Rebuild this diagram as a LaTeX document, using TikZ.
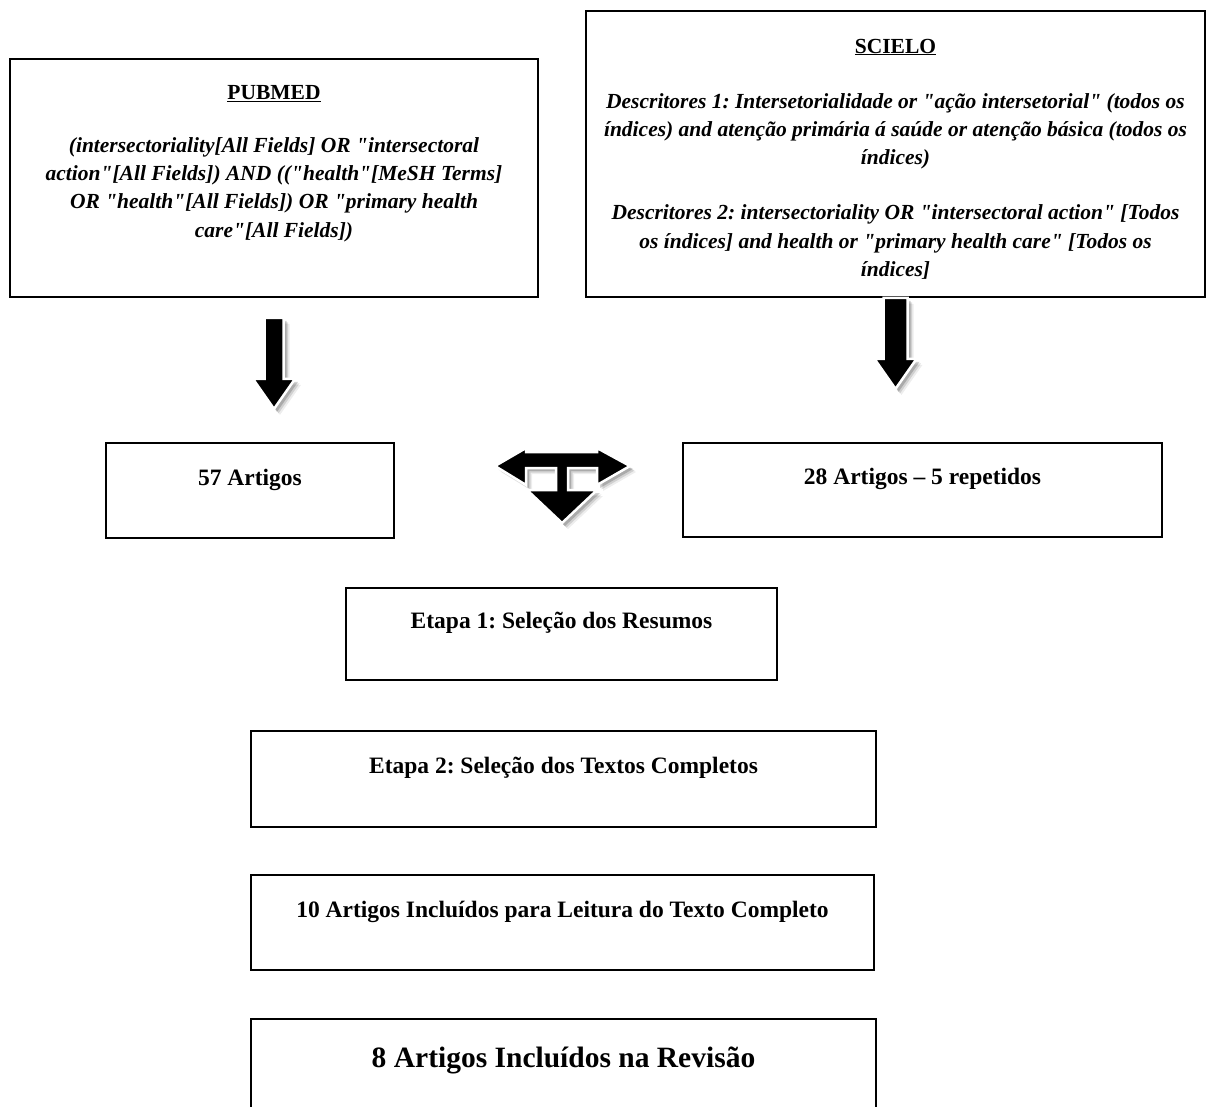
\documentclass[tikz,border=0pt]{standalone}
\usepackage{fontspec}
\setmainfont{Liberation Serif}
\usetikzlibrary{positioning,shadows}
\newcommand{\dq}{\textquotedbl}
\frenchspacing

\begin{document}
\begin{tikzpicture}[x=1pt, y=-1pt,
		box/.style={draw, line width=1.8pt, inner sep=0pt},
		stepbox/.style={box, font=\bfseries\fontsize{23.5}{28}\selectfont, text height=17pt, text depth=27.4pt},
		query/.style={align=center, inner sep=0pt, font=\bfseries\itshape\fontsize{21.5}{28.2}\selectfont},
		blockarrow/.style={fill=black, draw=white, line width=2.5pt,
			drop shadow={shadow xshift=6pt, shadow yshift=-6pt, opacity=.07, fill=black},
			drop shadow={shadow xshift=4.5pt, shadow yshift=-4.5pt, opacity=.12, fill=black},
			drop shadow={shadow xshift=3pt, shadow yshift=-3pt, opacity=.18, fill=black}}]
		\useasboundingbox (0,0) rectangle (1209,1106);
		\fill[white] (0,0) rectangle (1209,1106);
		\clip (0,0) rectangle (1209,1106);
		% bases
		\node[box, minimum width=528pt, minimum height=238pt] (pubmed) at (274,178) {};
		\node[query, below=27pt of pubmed.north] (pubq) {{\upshape\underline{PUBMED}}\\[25pt]
			(intersectoriality[All Fields] OR \dq intersectoral\\
			action\dq[All Fields]) AND ((\dq health\dq[MeSH Terms]\\
			OR \dq health\dq[All Fields]) OR \dq primary health\\
			care\dq[All Fields])};
		\node[box, minimum width=619pt, minimum height=286pt] (scielo) at (895.5,154) {};
		\node[query, below=28.5pt of scielo.north] (scieloq) {{\upshape\underline{SCIELO}}\\[27pt]
			Descritores 1: Intersetorialidade or \dq ação intersetorial\dq{} (todos os\\
			índices) and atenção primária á saúde or atenção básica (todos os\\
			índices)\\[27pt]
			Descritores 2: intersectoriality OR \dq intersectoral action\dq{} [Todos\\
			os índices] and health or \dq primary health care\dq{} [Todos os\\
			índices]};
		% results
		\node[stepbox, minimum width=288pt, minimum height=95pt] (art57) at (250,490.5) {57 Artigos};
		\node[stepbox, minimum width=479pt, minimum height=94pt] (art28) at (922.5,490) {28 Artigos – 5 repetidos};
		\node[stepbox, minimum width=431pt, minimum height=92pt] (etapa1) at (561.5,634) {Etapa 1: Seleção dos Resumos};
		\node[stepbox, minimum width=625pt, minimum height=96pt] (etapa2) at (563.5,779) {Etapa 2: Seleção dos Textos Completos};
		\node[stepbox, minimum width=623pt, minimum height=95pt] (art10) at (562.5,922.5) {10 Artigos Incluídos para Leitura do Texto Completo};
		\node[box, minimum width=625pt, minimum height=100pt, font=\bfseries\fontsize{29.5}{35}\selectfont, text height=21pt, text depth=23.4pt] (art8) at (563.5,1069) {8 Artigos Incluídos na Revisão};
		% block arrows
		\draw[blockarrow, shift={(pubmed.south)}] (-9.5,20) -- (9.5,20) -- (9.5,81) -- (21,81) -- (0,111) -- (-21,81) -- (-9.5,81) -- cycle;
		\draw[blockarrow, shift={(scielo.south)}] (-12,0) -- (12,0) -- (12,61) -- (21,61) -- (0,91) -- (-21,61) -- (-12,61) -- cycle;
		\coordinate (hub) at (562,466);
		\draw[blockarrow, shift={(hub)}] (-67,0) -- (-36,-18) -- (-36,-14) -- (35,-14) -- (35,-18) -- (68,0) -- (35,19) -- (35,2) -- (6,2) -- (6,24) -- (35,24) -- (0,57) -- (-35,24) -- (-6,24) -- (-6,2) -- (-36,2) -- (-36,19) -- cycle;
		\end{tikzpicture}
\end{document}
